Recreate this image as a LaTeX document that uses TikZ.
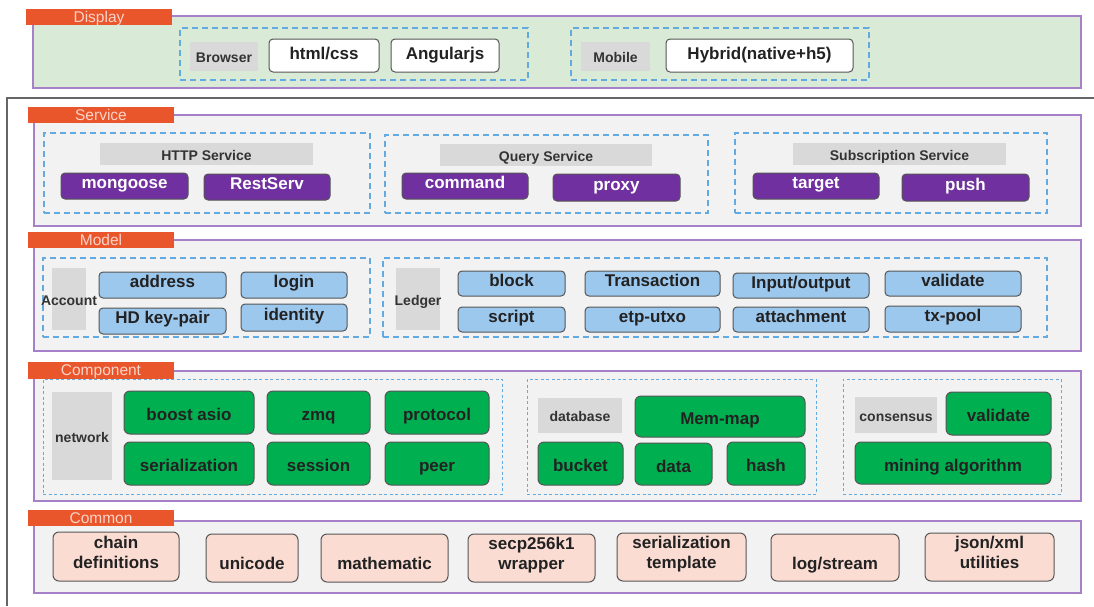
\documentclass[tikz,border=0pt]{standalone}
\usepackage{fontspec}
\setmainfont{Liberation Sans}

\definecolor{tabred}{HTML}{E9562B}
\definecolor{tabtext}{HTML}{FAD3C9}
\definecolor{panelline}{HTML}{A680C9}
\definecolor{panelfill}{HTML}{F2F2F2}
\definecolor{dispfill}{HTML}{D9EBD6}
\definecolor{dashblue}{HTML}{62AADF}
\definecolor{lblgray}{HTML}{D9D9D9}
\definecolor{lbltext}{HTML}{333333}
\definecolor{btnline}{HTML}{555555}
\definecolor{btntext}{HTML}{222222}
\definecolor{purplebtn}{HTML}{7030A0}
\definecolor{bluebtn}{HTML}{9DC8EE}
\definecolor{greenbtn}{HTML}{00B050}
\definecolor{pinkbtn}{HTML}{FADCD3}
\definecolor{framegray}{HTML}{666666}

% two stacked lines of button text, spaced like the body font
\newcommand\twolines[2]{\raisebox{2.5pt}[\height][\depth]{\begin{tabular}{@{}c@{}}#1\\#2\end{tabular}}}

\begin{document}
\begin{tikzpicture}[
  x=1pt, y=-1pt,
  % a node spanning the corners (x1,y1) and (x2,y2)
  span/.style n args={4}{anchor=center, at={({(#1+#3)/2},{(#2+#4)/2})},
    minimum width={(#3-#1)*1pt}, minimum height={(#4-#2)*1pt}},
  panel/.style={draw=panelline, line width=1.4pt, fill=panelfill, inner sep=0pt},
  tab/.style={fill=tabred, text=tabtext, inner sep=0pt,
    font=\fontsize{15.5}{16}\selectfont, text height=12pt, text depth=2pt},
  grp/.style={draw=dashblue, line width=1.2pt, dash pattern=on 6pt off 4pt, inner sep=0pt},
  fgrp/.style={grp, line width=1pt, dash pattern=on 3pt off 2.5pt},
  lbl/.style={fill=lblgray, text=lbltext, inner sep=0pt,
    font=\bfseries\fontsize{14}{16}\selectfont, text height=13pt, text depth=1pt},
  btn/.style={draw=btnline, line width=1pt, rounded corners=4pt, inner sep=0pt,
    text=btntext, font=\bfseries\fontsize{17}{20}\selectfont},
  wbtn/.style={btn, fill=white, text height=12pt, text depth=4pt},
  pbtn/.style={btn, fill=purplebtn, text=white, text height=10.5pt, text depth=5.5pt},
  bbtn/.style={btn, fill=bluebtn, text height=10.5pt, text depth=5.5pt},
  gbtn/.style={btn, fill=greenbtn, rounded corners=6pt, text height=16.5pt, text depth=0pt},
  cbtn/.style={btn, fill=pinkbtn, rounded corners=6pt},
]
\useasboundingbox (0,0) rectangle (1094,606);

% ---------------- Display layer ----------------
\node[panel, fill=dispfill, span={33}{16}{1081}{88}] (display) {};
\node[tab, span={26}{9}{172}{25}] (displaytab) {Display};

\node[grp, span={180}{28}{528}{80}] (browser) {};
\node[lbl, span={190}{42}{258}{71}] (browserlbl) {Browser};
\node[wbtn, span={269}{39}{379}{72}] (htmlcss) {html/css};
\node[wbtn, span={391}{39}{499}{72}] (angular) {Angularjs};

\node[grp, span={571}{28}{869}{80}] (mobile) {};
\node[lbl, span={581}{42}{650}{71}] (mobilelbl) {Mobile};
\node[wbtn, span={666}{39}{853}{72}] (hybrid) {Hybrid(native+h5)};

% outer frame around the back-end layers
\draw[draw=framegray, line width=1.5pt] (7,606) -- (7,98) -- (1094,98);

% ---------------- Service layer ----------------
\node[panel, span={34}{115}{1081}{226}] (service) {};
\node[tab, span={28}{107}{174}{123}] (servicetab) {Service};

\node[grp, span={44}{133}{370}{213}] (http) {};
\node[lbl, span={100}{143}{313}{165}] (httplbl) {HTTP Service};
\node[pbtn, span={61}{173}{188}{199}] (mongoose) {mongoose};
\node[pbtn, span={204}{174}{330}{200}] (restserv) {RestServ};

\node[grp, span={385}{135}{708}{213}] (query) {};
\node[lbl, span={440}{144}{652}{166}] (querylbl) {Query Service};
\node[pbtn, span={402}{173}{528}{199}] (command) {command};
\node[pbtn, span={553}{174}{680}{201}] (proxy) {proxy};

\node[grp, span={735}{133}{1047}{213}] (subscr) {};
\node[lbl, span={793}{143}{1006}{165}] (subscrlbl) {Subscription Service};
\node[pbtn, span={753}{173}{879}{199}] (target) {target};
\node[pbtn, span={902}{174}{1029}{201}] (push) {push};

% ---------------- Model layer ----------------
\node[panel, span={34}{240}{1081}{351}] (model) {};
\node[tab, span={28}{232}{174}{248}] (modeltab) {Model};

\node[grp, span={43}{258}{370}{337}] (account) {};
\node[lbl, span={52}{268}{86}{330}] (accountlbl) {\makebox[0pt]{Account}};
\node[bbtn, span={99}{272}{226}{298}] (address) {address};
\node[bbtn, span={241}{272}{347}{298}] (login) {login};
\node[bbtn, span={99}{308}{226}{334}] (hdkey) {HD key-pair};
\node[bbtn, span={241}{304}{347}{331}] (identity) {identity};

\node[grp, span={383}{258}{1047}{337}] (ledger) {};
\node[lbl, span={396}{268}{440}{330}] (ledgerlbl) {\makebox[0pt]{Ledger}};
\node[bbtn, span={458}{271}{565}{296}] (block) {block};
\node[bbtn, span={458}{307}{565}{332}] (script) {script};
\node[bbtn, span={585}{271}{720}{296}] (transaction) {Transaction};
\node[bbtn, span={585}{307}{720}{332}] (etputxo) {etp-utxo};
\node[bbtn, span={733}{273}{869}{298}] (inout) {Input/output};
\node[bbtn, span={733}{307}{869}{332}] (attachment) {attachment};
\node[bbtn, span={885}{271}{1021}{296}] (mvalidate) {validate};
\node[bbtn, span={885}{306}{1021}{332}] (txpool) {tx-pool};

% ---------------- Component layer ----------------
\node[panel, span={34}{371}{1081}{501}] (component) {};
\node[tab, span={28}{362}{174}{379}] (componenttab) {Component};

\node[fgrp, span={43}{379}{502}{494}] (network) {};
\node[lbl, span={52}{392}{112}{480}] (networklbl) {network};
\node[gbtn, span={124}{391}{254}{434}] (boostasio) {boost asio};
\node[gbtn, span={267}{391}{370}{434}] (zmq) {zmq};
\node[gbtn, span={385}{391}{489}{434}] (protocol) {protocol};
\node[gbtn, span={124}{442}{254}{485}] (serialization) {serialization};
\node[gbtn, span={267}{442}{370}{485}] (session) {session};
\node[gbtn, span={385}{442}{489}{485}] (peer) {peer};

\node[fgrp, span={527}{379}{816}{494}] (database) {};
\node[lbl, span={538}{398}{622}{433}] (databaselbl) {database};
\node[gbtn, span={635}{396}{805}{437}] (memmap) {Mem-map};
\node[gbtn, span={538}{442}{623}{485}] (bucket) {bucket};
\node[gbtn, span={635}{443}{712}{485}] (data) {data};
\node[gbtn, span={727}{442}{805}{485}] (hash) {hash};

\node[fgrp, span={843}{379}{1061}{494}] (consensus) {};
\node[lbl, span={855}{397}{937}{433}] (consensuslbl) {consensus};
\node[gbtn, span={946}{392}{1051}{435}] (cvalidate) {validate};
\node[gbtn, span={855}{442}{1051}{484}] (mining) {mining algorithm};

% ---------------- Common layer ----------------
\node[panel, span={34}{521}{1081}{593}] (common) {};
\node[tab, span={28}{510}{174}{526}] (commontab) {Common};

\node[cbtn, span={53}{532}{179}{581}] (chaindef) {\twolines{chain}{definitions}};
\node[cbtn, span={206}{534}{298}{582}] (unicode) {\twolines{\mbox{}}{unicode}};
\node[cbtn, span={321}{534}{448}{582}] (mathematic) {\twolines{\mbox{}}{mathematic}};
\node[cbtn, span={468}{534}{595}{582}] (secp) {\twolines{secp256k1}{wrapper}};
\node[cbtn, span={617}{533}{746}{581}] (sertemplate) {\twolines{serialization}{template}};
\node[cbtn, span={771}{534}{899}{581}] (logstream) {\twolines{\mbox{}}{log/stream}};
\node[cbtn, span={925}{533}{1054}{581}] (jsonxml) {\twolines{json/xml}{utilities}};

\end{tikzpicture}
\end{document}
